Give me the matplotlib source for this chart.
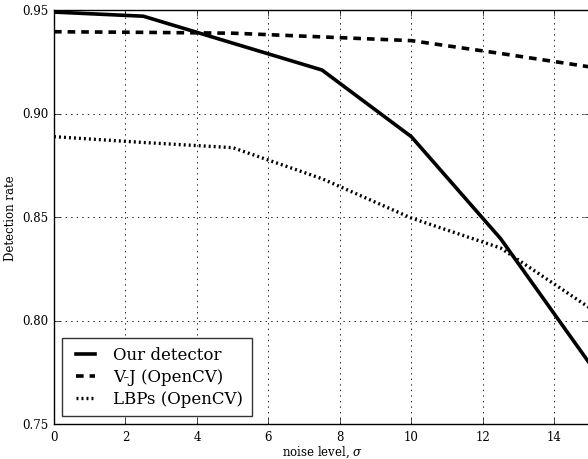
import matplotlib
matplotlib.use('Agg')
import matplotlib.pyplot as plt

# noise level sigma
noise = [0, 2.5, 5, 7.5, 10, 12.5, 15]

ours = [0.949, 0.947, 0.934, 0.921, 0.8888, 0.8395, 0.779]
vj = [0.9395, 0.9392, 0.9388, 0.937, 0.9352, 0.929, 0.9225]
lbp = [0.8888, 0.886, 0.8835, 0.8685, 0.8495, 0.835, 0.806]

labels = ['Our detector', 'V-J (OpenCV)', 'LBPs (OpenCV)']
xticks = [0, 2, 4, 6, 8, 10, 12, 14]
yticks = [0.75, 0.80, 0.85, 0.90, 0.95]

plt.style.use('classic')
plt.rcParams['font.family'] = 'DejaVu Serif'
plt.rcParams['mathtext.fontset'] = 'dejavuserif'
plt.rcParams['lines.scale_dashes'] = False

fig = plt.figure(figsize=(5.88, 4.60), dpi=100, facecolor='white')
ax = fig.add_axes([54 / 588, 35 / 460, 536 / 588, 414 / 460])

ax.plot(noise, ours, color='black', linestyle='-', linewidth=2.6, label=labels[0])
ax.plot(noise, vj, color='black', linestyle=(0, (5.5, 4.3)), linewidth=2.6,
        label=labels[1])
ax.plot(noise, lbp, color='black', linestyle=(0, (1.4, 2.2)), linewidth=2.4,
        label=labels[2])

ax.set_xlim(0, 15)
ax.set_ylim(0.75, 0.95)
ax.set_xticks(xticks)
ax.set_yticks(yticks)
ax.set_yticklabels([f'{v:.2f}' for v in yticks])
ax.tick_params(labelsize=8.5)
ax.grid(True, color='black', linestyle=':', linewidth=0.6)

ax.set_xlabel(r'noise level, $\sigma$', fontsize=8.5, labelpad=1)
ax.set_ylabel('Detection rate', fontsize=8.5, labelpad=4)

leg = ax.legend(loc='lower left', fontsize=12, handlelength=1.75,
                handletextpad=0.8, labelspacing=0.3, borderpad=0.5,
                borderaxespad=0.5, fancybox=False)
leg.get_frame().set_edgecolor('#333333')
leg.get_frame().set_linewidth(1.0)

fig.savefig('out.png', dpi=100, facecolor='white')
